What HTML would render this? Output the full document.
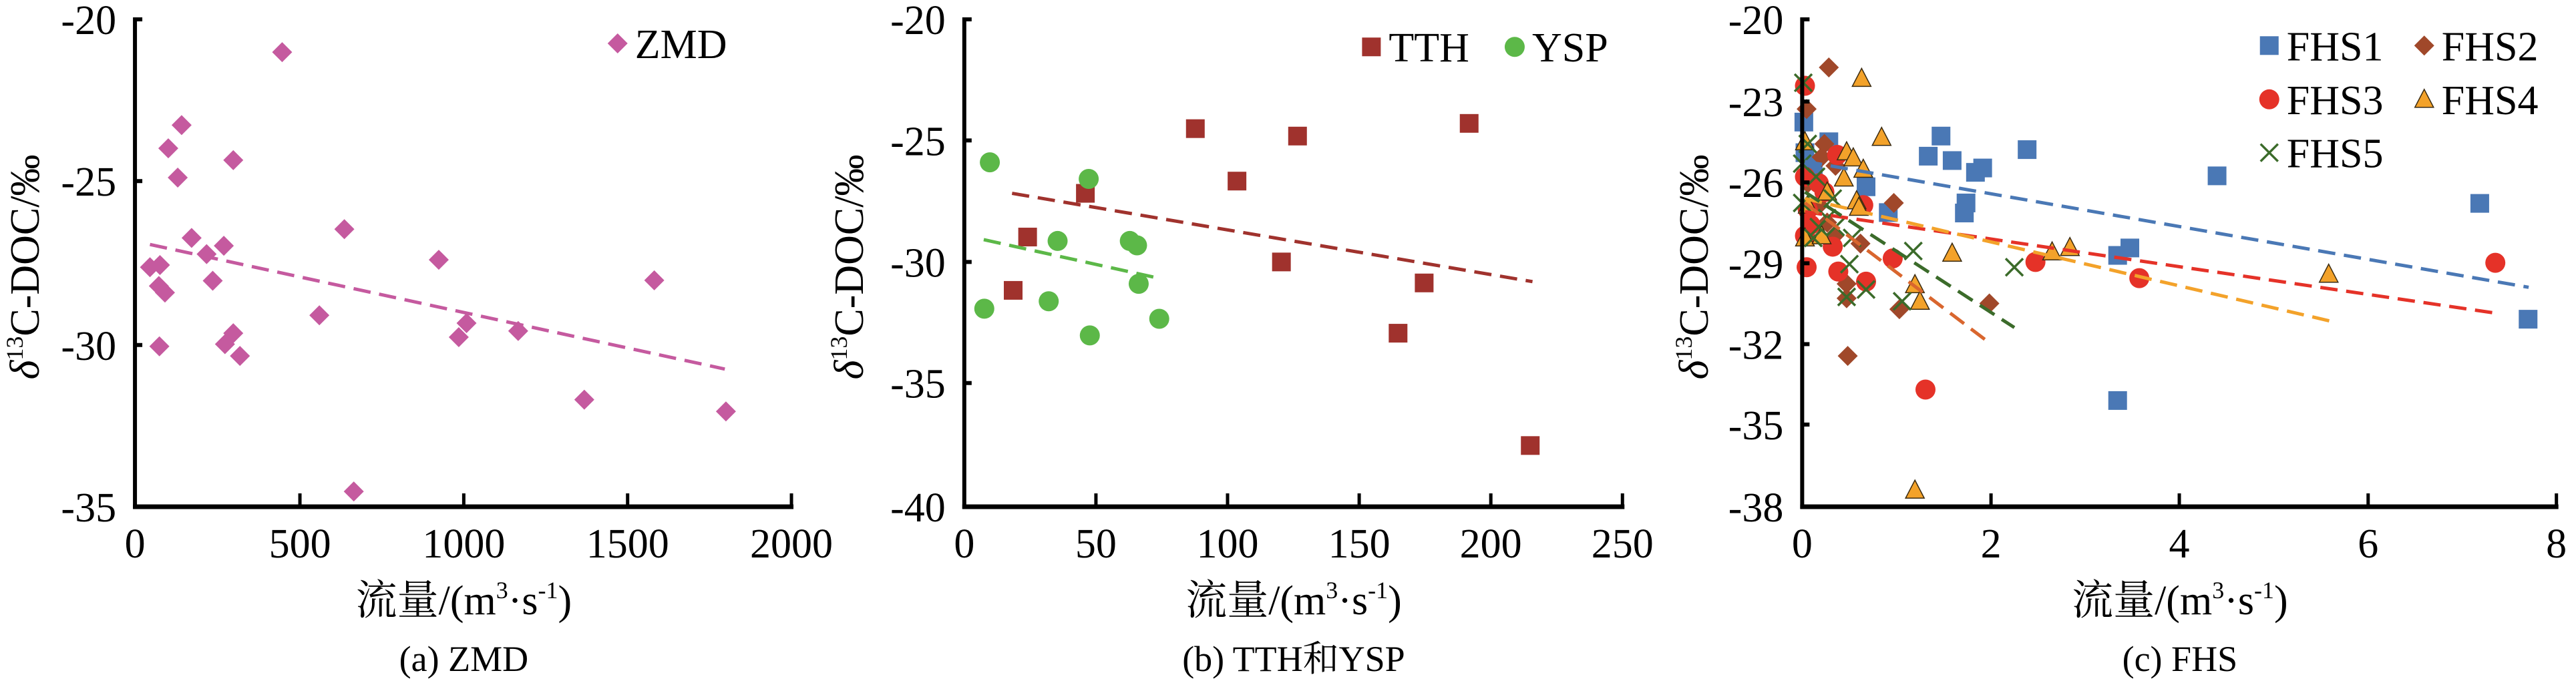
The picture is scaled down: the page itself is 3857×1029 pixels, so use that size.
<!DOCTYPE html>
<html><head><meta charset="utf-8"><style>
html,body{margin:0;padding:0;background:#fff;width:3857px;height:1029px;overflow:hidden}
svg{display:block}
svg text{font-family:"Liberation Serif","Times New Roman",Times,"DejaVu Serif","Noto Serif CJK SC",serif;fill:#000}
</style></head><body>
<svg id="s" width="3857" height="1029" xmlns="http://www.w3.org/2000/svg"></svg>
<script>
const s=document.getElementById('s');let h='';
function P(ox,zx){return ox+zx/1.2025}
function Y(zy){return 29+(zy-45)*0.6547}
function mk(t,x,y,c){
 if(t=='d')return `<polygon points="${x},${y-15} ${x+15},${y} ${x},${y+15} ${x-15},${y}" fill="${c}"/>`;
 if(t=='s')return `<rect x="${x-14}" y="${y-14}" width="28" height="28" fill="${c}"/>`;
 if(t=='c')return `<circle cx="${x}" cy="${y}" r="15" fill="${c}"/>`;
 if(t=='t')return `<polygon points="${x},${y-15} ${x+14},${y+12} ${x-14},${y+12}" fill="${c}" stroke="#3a2a10" stroke-width="1.5"/>`;
 if(t=='x')return `<path d="M${x-13},${y-13}L${x+13},${y+13}M${x+13},${y-13}L${x-13},${y+13}" stroke="${c}" stroke-width="3.5"/>`;
}
function panel(o){
 const ox=o.ox;const ax=P(ox,o.ax),top=29,bot=759,right=P(ox,o.xt[o.xt.length-1]);
 o.series.forEach(sr=>{sr.pts.forEach(p=>{h+=mk(sr.t,P(ox,p[0]),Y(p[1]),sr.c)})});
 o.lines.forEach(l=>{h+=`<line x1="${P(ox,l[0])}" y1="${Y(l[1])}" x2="${P(ox,l[2])}" y2="${Y(l[3])}" stroke="${l[4]}" stroke-width="5" stroke-dasharray="26,13"/>`});
 h+=`<line x1="${ax}" y1="${top-3}" x2="${ax}" y2="${bot+3}" stroke="#000" stroke-width="6"/>`;
 h+=`<line x1="${ax-3}" y1="${bot}" x2="${right+3}" y2="${bot}" stroke="#000" stroke-width="7"/>`;
 o.yt.forEach(t=>{const y=Y(t[0]);
  h+=`<line x1="${ax}" y1="${y}" x2="${ax+11}" y2="${y}" stroke="#000" stroke-width="6"/>`;
  h+=`<text x="${ax-28}" y="${y+22}" font-size="62" text-anchor="end">${t[1]}</text>`});
 o.xt.forEach((zx,i)=>{const x=P(ox,zx);
  if(i>0)h+=`<line x1="${x}" y1="${bot}" x2="${x}" y2="${bot-20}" stroke="#000" stroke-width="5"/>`;
  h+=`<text x="${x}" y="${bot+76}" font-size="62" text-anchor="middle">${o.xl[i]}</text>`});
 const cx=P(ox,o.cx);
 h+=`<text x="${cx}" y="920" font-size="62" text-anchor="middle">流量/(m<tspan font-size="36" dy="-24">3</tspan><tspan dy="24">·s</tspan><tspan font-size="36" dy="-24">-1</tspan><tspan dy="24">)</tspan></text>`;
 h+=`<text x="${cx}" y="1005" font-size="54" text-anchor="middle">${o.cap}</text>`;
 h+=`<text transform="translate(${o.tx},400) rotate(-90)" font-size="62" text-anchor="middle"><tspan font-style="italic">δ</tspan><tspan font-size="36" dy="-24">13</tspan><tspan dy="24">C-DOC/‰</tspan></text>`;
 o.leg.forEach(l=>{h+=mk(l[0],P(ox,l[1]),Y(l[2]),l[3]);h+=`<text x="${P(ox,l[1])+26}" y="${Y(l[2])+22}" font-size="62">${l[4]}</text>`});
}
const pk='#c55a9f';
panel({ox:0,ax:243,tx:58,cx:835,cap:'(a) ZMD',
 yt:[[45,'-20'],[415,'-25'],[790,'-30'],[1160,'-35']],
 xt:[243,540,835,1130,1425],xl:['0','500','1000','1500','2000'],
 series:[{t:'d',c:pk,pts:[[508,120],[327,287],[303,340],[420,367],[320,407],[620,525],[345,545],[403,563],[372,582],[790,595],[270,612],[288,607],[383,643],[1178,642],[286,655],[297,670],[575,722],[840,740],[420,763],[826,772],[933,758],[405,788],[287,793],[432,815],[1052,915],[1307,942],[637,1125]]}],
 lines:[[270,560,1305,845,pk]],
 leg:[['d',1112,100,pk,'ZMD']]});
const tt='#a0322d',ys='#5cb848';
panel({ox:1280,ax:197,tx:1292,cx:790,cap:'(b) TTH和YSP',
 yt:[[45,'-20'],[322,'-25'],[600,'-30'],[877,'-35'],[1160,'-40']],
 xt:[197,434,671,908,1145,1382],xl:['0','50','100','150','200','250'],
 series:[{t:'s',c:tt,pts:[[613,295],[797,312],[1106,283],[688,415],[415,443],[311,543],[768,600],[1025,648],[285,665],[978,763],[1216,1020]]},
  {t:'c',c:ys,pts:[[243,372],[421,410],[365,552],[495,552],[508,562],[511,650],[233,707],[349,690],[548,730],[423,768]]}],
 lines:[[283,443,1220,645,tt],[232,549,550,638,ys]],
 leg:[['s',930,108,tt,'TTH'],['c',1188,108,ys,'YSP']]});
const b1='#4a78b5',b2='#a0482a',b3='#e53228',b4='#f3a22a',b5='#3b6b2a';
panel({ox:2557,ax:170,tx:2557,cx:850,cap:'(c) FHS',
 yt:[[45,'-20'],[233,'-23'],[418,'-26'],[603,'-29'],[788,'-32'],[972,'-35'],[1160,'-38']],
 xt:[170,510,849,1189,1528],xl:['0','2','4','6','8'],
 series:[
 {t:'s',c:b1,pts:[[173,280],[218,325],[420,312],[397,358],[440,368],[482,395],[495,385],[575,343],[917,403],[462,488],[465,465],[325,487],[285,428],[1390,466],[1477,731],[760,568],[738,585],[738,917],[175,350],[190,380]]},
 {t:'d',c:b2,pts:[[218,155],[178,250],[210,330],[205,360],[230,380],[335,465],[228,540],[275,558],[250,650],[250,683],[345,708],[507,695],[252,815],[180,420],[200,470],[215,510]]},
 {t:'c',c:b3,pts:[[175,197],[233,355],[175,405],[180,480],[185,515],[175,540],[225,565],[280,470],[210,440],[178,612],[235,622],[285,645],[333,592],[590,600],[777,637],[1418,602],[392,892],[200,420]]},
 {t:'t',c:b4,pts:[[277,180],[313,315],[175,325],[250,348],[262,362],[280,388],[245,408],[215,440],[268,460],[272,475],[175,545],[205,540],[440,580],[620,577],[652,567],[1118,628],[373,652],[382,690],[373,1122],[180,470]]},
 {t:'x',c:b5,pts:[[172,190],[180,330],[170,375],[195,405],[225,455],[170,465],[215,500],[190,545],[260,545],[255,605],[370,575],[285,663],[250,680],[350,690],[552,612],[230,520],[200,520]]}],
 lines:[[175,370,1478,658,b1],[175,485,1418,717,b3],[175,455,1120,735,b4],[175,465,507,785,'#d9662e'],[175,440,552,750,b5]],
 leg:[['s',1011,105,b1,'FHS1'],['d',1290,105,b2,'FHS2'],['c',1011,228,b3,'FHS3'],['t',1290,228,b4,'FHS4'],['x',1011,350,b5,'FHS5']]});
s.innerHTML=h;
</script>
</body></html>
